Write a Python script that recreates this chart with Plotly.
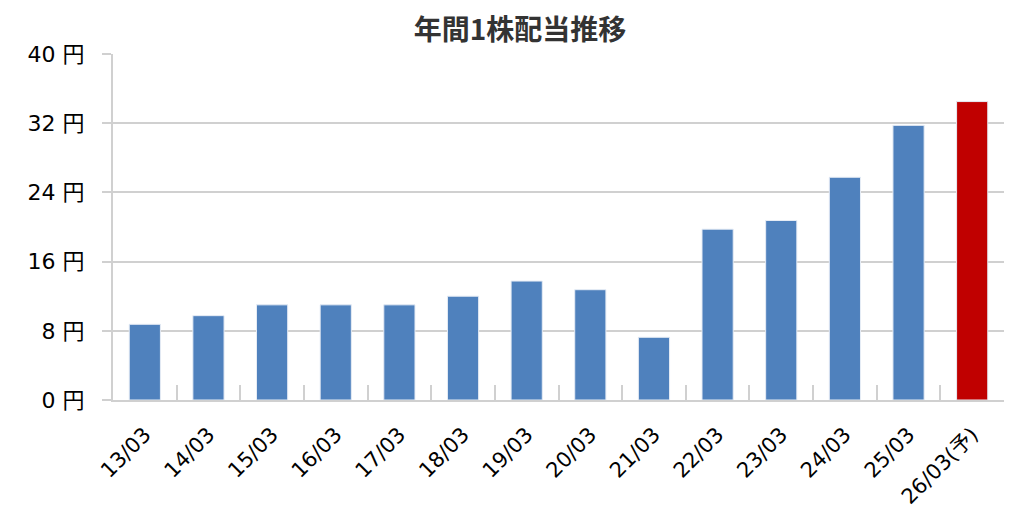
import plotly.graph_objects as go

categories = ["13/03", "14/03", "15/03", "16/03", "17/03", "18/03", "19/03",
              "20/03", "21/03", "22/03", "23/03", "24/03", "25/03", "26/03(予)"]
dividends = [8.75, 9.75, 11, 11, 11, 12, 13.75, 12.75, 7.25, 19.75, 20.75, 25.75, 31.75, 34.5]
bar_colors = ["#4F81BD"] * 13 + ["#C00000"]
y_tick_vals = [0, 8, 16, 24, 32, 40]
y_tick_text = [f"{v} 円" for v in y_tick_vals]
title_text = "年間1株配当推移"

FONT = "DejaVu Sans, Verdana, Noto Sans CJK JP, sans-serif"
GRID = "#D0D0D0"

fig = go.Figure(go.Bar(
    x=categories, y=dividends,
    marker=dict(color=bar_colors, line=dict(color="#E6ECF5", width=1)),
    width=0.49,
))

fig.update_layout(
    width=1024, height=522,
    margin=dict(l=105, r=28, t=46, b=130),
    paper_bgcolor="white", plot_bgcolor="white",
    showlegend=False,
    title=dict(text=f"<b>{title_text}</b>", x=0.5, xanchor="center",
               yref="container", y=1 - 22 / 522, yanchor="middle",
               font=dict(family="Noto Sans CJK JP, sans-serif", size=28, color="#333333")),
    font=dict(family=FONT, color="#000000"),
)
fig.update_yaxes(
    range=[0, 40], tickvals=y_tick_vals, ticktext=y_tick_text,
    showgrid=True, gridcolor=GRID, gridwidth=1.5,
    showline=True, linecolor=GRID, linewidth=2,
    ticks="outside", ticklen=9, tickcolor=GRID, tickwidth=1.5,
    ticklabelstandoff=13,
    tickfont=dict(family="DejaVu Sans, Noto Sans CJK JP", size=22, color="#000000"),
    zeroline=False,
)
fig.update_xaxes(
    type="category",
    showline=True, linecolor=GRID, linewidth=2,
    ticks="inside", ticklen=15, tickcolor=GRID, tickwidth=1.5,
    tickson="boundaries", tickangle=-45,
    ticklabelstandoff=12,
    tickfont=dict(family="DejaVu Sans, Noto Sans CJK JP", size=21, color="#000000"),
    showgrid=False,
)

fig.write_html("out.html")
